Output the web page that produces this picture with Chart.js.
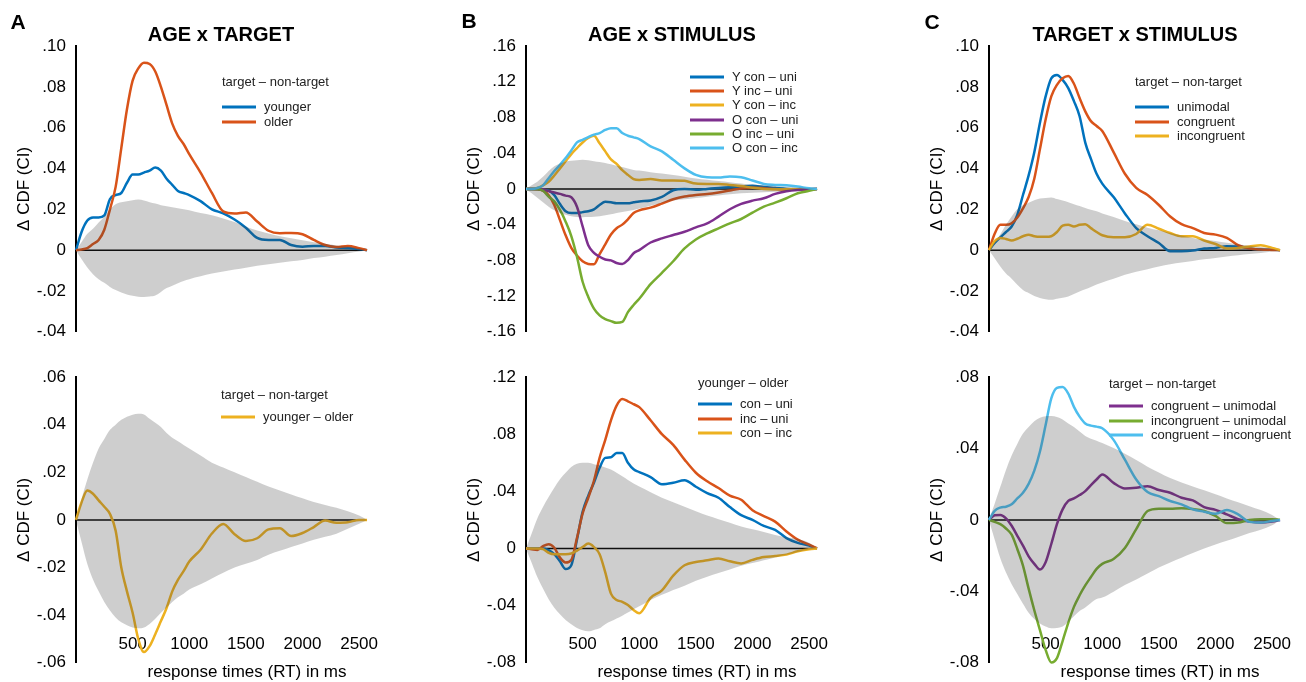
<!DOCTYPE html>
<html>
<head>
<meta charset="utf-8">
<script src="https://cdn.jsdelivr.net/npm/chart.js@4.4.1/dist/chart.umd.min.js"></script>
<style>
  body { margin:0; width:1306px; height:682px; overflow:hidden; background:#fff; position:relative;
         font-family:"Liberation Sans", Arial, Helvetica, sans-serif; }
  canvas { position:absolute; }
  .txt { position:absolute; white-space:nowrap; color:#000; line-height:1.15; }
  .letter { font-size:21px; font-weight:bold; transform:translate(-50%,-50%); }
  .ptitle { font-size:20px; font-weight:bold; transform:translate(-50%,-50%); }
  .lgt { font-size:13px; color:#222; transform:translateY(-50%); }
  .sw { position:absolute; width:34px; height:3px; transform:translateY(-50%); }
</style>
</head>
<body>
<script>
// response time grid (ms)
const xs = [0,50,100,150,200,250,300,350,400,450,500,550,600,650,700,750,800,850,900,950,1000,
            1100,1200,1300,1400,1500,1600,1700,1800,1900,2000,2100,2200,2300,2400,2500,2570];
const xTicks = [500,1000,1500,2000,2500];

// tick labels for each panel
const ticksATop = [-0.04,-0.02,0,0.02,0.04,0.06,0.08,0.10];
const ticksABot = [-0.06,-0.04,-0.02,0,0.02,0.04,0.06];
const ticksBTop = [-0.16,-0.12,-0.08,-0.04,0,0.04,0.08,0.12,0.16];
const ticksBBot = [-0.08,-0.04,0,0.04,0.08,0.12];
const ticksCTop = [-0.04,-0.02,0,0.02,0.04,0.06,0.08,0.10];
const ticksCBot = [-0.08,-0.04,0,0.04,0.08];

// A: AGE x TARGET
const aTopNames = ['younger','older'];
const aTopYounger = [0,.009,.0145,.016,.016,.017,.025,.027,.028,.033,.037,.037,.038,.039,.0405,.039,.035,.032,.029,.028,.027,
                     .024,.020,.018,.015,.011,.006,.005,.005,.0025,.0017,.002,.002,.0013,.001,.0005,0];
const aTopOlder   = [0,.0003,.001,.003,.005,.010,.020,.031,.050,.069,.083,.089,.0918,.0912,.0875,.080,.071,.062,.056,.052,.047,
                     .038,.028,.019,.018,.0185,.014,.0095,.0083,.0084,.0078,.005,.0025,.0015,.002,.001,0];
const aTopCiHi = [0,.004,.008,.0105,.0135,.0165,.020,.0225,.0235,.024,.0245,.0248,.0243,.0235,.0228,.022,.0215,.021,.0205,.020,.0196,
                  .0182,.0171,.0155,.0138,.0115,.0096,.0082,.0068,.0058,.0048,.0039,.0031,.0023,.0018,.001,0];
const aTopCiLo = [0,-.0045,-.0085,-.0118,-.0142,-.016,-.018,-.0195,-.0207,-.0217,-.0224,-.0228,-.0229,-.0227,-.0222,-.0205,-.0186,-.0174,-.0162,-.0151,-.0142,
                  -.0128,-.0115,-.0105,-.0095,-.0086,-.0077,-.0069,-.0062,-.0055,-.0048,-.0039,-.0032,-.0024,-.0015,-.0007,0];

const aBotNames = ['younger – older'];
const aBotDiff = [0,.0075,.0123,.011,.0082,.0055,.0025,-.0045,-.020,-.030,-.039,-.050,-.0555,-.053,-.048,-.0425,-.037,-.030,-.0252,-.0215,-.0175,
                  -.0125,-.0057,-.0017,-.006,-.0089,-.0077,-.004,-.0035,-.0068,-.0055,-.003,-.0003,-.0012,-.001,0,0];
const aBotCiHi = [0,.009,.017,.024,.030,.034,.0378,.040,.042,.0433,.0442,.0446,.0443,.0425,.0408,.039,.0365,.0345,.033,.0315,.030,
                  .027,.024,.022,.020,.018,.016,.014,.0123,.0107,.0091,.0075,.0063,.0051,.0036,.0018,0];
const aBotCiLo = [0,-.0095,-.0185,-.025,-.030,-.0345,-.038,-.041,-.043,-.0442,-.0452,-.0455,-.0452,-.0437,-.0415,-.039,-.0368,-.0345,-.0325,-.031,-.0292,
                  -.027,-.0246,-.0222,-.020,-.0184,-.0168,-.0146,-.013,-.0114,-.0099,-.0083,-.0071,-.0058,-.0037,-.0016,0];

// B: AGE x STIMULUS
const bTopNames = ['Y con – uni','Y inc – uni','Y con – inc','O con – uni','O inc – uni','O con – inc'];
const bYConUni = [0,0,0,-.001,-.002,-.007,-.017,-.025,-.027,-.027,-.026,-.025,-.023,-.018,-.0145,-.015,-.016,-.016,-.016,-.015,-.014,
                  -.013,-.009,-.0015,0,-.001,0,.001,.0018,.0027,.0034,.002,.001,0,-.0005,-.0005,0];
const bYIncUni = [0,0,-.0003,-.002,-.007,-.018,-.035,-.052,-.066,-.0745,-.081,-.084,-.0845,-.073,-.062,-.051,-.044,-.040,-.034,-.027,-.024,
                  -.021,-.0165,-.0116,-.0085,-.0068,-.0058,-.004,-.0017,.0005,.0014,.0008,-.0002,-.001,-.001,-.0008,0];
const bYConInc = [0,0,.001,.004,.008,.015,.023,.031,.039,.0457,.052,.057,.0595,.051,.042,.033,.028,.021,.0157,.011,.010,
                  .011,.0095,.0095,.009,.006,.0056,.0056,.0045,.0033,.0012,0,-.0004,-.0004,-.0004,0,0];
const bOConUni = [0,0,0,-.0005,-.0025,-.004,-.0056,-.0075,-.0094,-.020,-.042,-.063,-.0715,-.076,-.079,-.080,-.083,-.084,-.0797,-.072,-.0685,
                  -.060,-.0554,-.0517,-.048,-.043,-.0386,-.031,-.0228,-.0168,-.0131,-.0105,-.0056,-.0026,-.0011,-.0005,0];
const bOIncUni = [0,0,-.0003,-.002,-.0086,-.014,-.0236,-.0367,-.0528,-.076,-.104,-.121,-.134,-.1416,-.1457,-.148,-.150,-.149,-.138,-.130,-.123,
                  -.1067,-.094,-.081,-.0667,-.0566,-.0498,-.0442,-.0386,-.0337,-.0266,-.0199,-.0154,-.0105,-.0049,-.0022,0];
const bOConInc = [0,0,.001,.004,.012,.020,.027,.0345,.043,.052,.055,.058,.0607,.0625,.066,.068,.068,.0625,.0595,.0577,.0558,
                  .0476,.042,.0326,.023,.0157,.013,.0127,.0139,.013,.0094,.0056,.0045,.004,.0026,.0007,0];
const bTopCiHi = [0,.004,.008,.0135,.020,.0255,.0285,.0305,.0315,.032,.0326,.032,.031,.030,.029,.0275,.026,.0245,.0228,.0213,.0205,
                  .0187,.0172,.0157,.0137,.0117,.0102,.0088,.0075,.006,.0046,.004,.0033,.0024,.0016,.0008,0];
const bTopCiLo = [0,-.005,-.010,-.015,-.020,-.024,-.027,-.029,-.0305,-.0315,-.0318,-.0316,-.0312,-.0305,-.0295,-.0285,-.027,-.0258,-.0247,-.0236,-.022,
                  -.0188,-.0158,-.0131,-.0117,-.0102,-.0087,-.0073,-.006,-.005,-.0042,-.0037,-.0033,-.0025,-.0016,-.0007,0];

const bBotNames = ['con – uni','inc – uni','con – inc'];
const bbConUni = [0,0,0,0,-.0012,-.004,-.009,-.0144,-.0117,.0062,.0256,.037,.046,.0565,.0634,.0638,.0668,.0668,.060,.0554,.0535,
                  .050,.045,.046,.0478,.0432,.0387,.0355,.029,.0233,.020,.0158,.013,.0073,.0039,.002,0];
const bbIncUni = [0,-.0005,-.001,.0016,.003,.0005,-.0064,-.0098,-.008,.0073,.0245,.0355,.0474,.0634,.076,.0897,.100,.1046,.103,.101,.0989,
                  .0897,.080,.0725,.0622,.053,.047,.0423,.037,.0341,.0268,.0227,.0188,.0119,.0062,.0027,0];
const bbConInc = [0,0,0,-.0005,-.003,-.004,-.004,-.004,-.0035,-.0015,.001,.0034,.001,-.004,-.0167,-.0316,-.036,-.0373,-.0396,-.043,-.0453,
                  -.0345,-.0293,-.019,-.0117,-.0094,-.0083,-.007,-.009,-.0105,-.008,-.006,-.0053,-.0043,-.002,-.0006,0];
const bBotCiHi = [0,.0105,.021,.029,.036,.0425,.0485,.053,.057,.0593,.060,.060,.059,.058,.0567,.0552,.053,.0505,.048,.0455,.0433,
                  .0394,.0355,.0324,.0292,.026,.023,.0205,.018,.0153,.0134,.0115,.0095,.0078,.0066,.004,0];
const bBotCiLo = [0,-.010,-.020,-.028,-.0355,-.0415,-.046,-.050,-.053,-.0556,-.0572,-.058,-.057,-.0558,-.053,-.051,-.049,-.047,-.0448,-.0425,-.0405,
                  -.036,-.0324,-.029,-.026,-.0226,-.0198,-.0172,-.0147,-.012,-.0102,-.0083,-.0063,-.0044,-.0024,-.0008,0];

// C: TARGET x STIMULUS
const cTopNames = ['unimodal','congruent','incongruent'];
const cUni = [0,.0035,.0063,.0089,.0116,.0173,.027,.0366,.048,.0624,.0753,.0842,.0858,.0834,.0794,.073,.0656,.0527,.0447,.0374,.0326,
              .026,.018,.0108,.0068,.0035,-.0005,-.0005,-.0002,.0008,.0011,.0019,.0018,.0008,.0003,.0002,0];
const cCon = [0,.008,.0124,.0124,.0132,.016,.0205,.026,.035,.0495,.064,.0753,.081,.0842,.0853,.0815,.0745,.068,.0632,.0608,.0584,
              .048,.0374,.0305,.027,.0221,.0165,.0127,.0108,.0084,.0076,.006,.0024,.0008,.0003,.0001,0];
const cInc = [0,.0044,.006,.0055,.0047,.0056,.0068,.0076,.0068,.0065,.0065,.0068,.0089,.012,.0124,.0116,.0124,.0127,.0108,.0089,.0073,
              .0063,.0063,.0079,.0124,.0105,.0084,.0068,.0068,.0047,.003,.0008,.0011,.0018,.0024,.0011,0];
const cTopCiHi = [0,.004,.0078,.0125,.0165,.020,.022,.0232,.0245,.0253,.0256,.0258,.025,.0243,.0235,.0225,.0216,.0207,.0198,.019,.018,
                  .0162,.0143,.0127,.011,.0097,.0084,.0072,.006,.0052,.0045,.0036,.0028,.0022,.0015,.0007,0];
const cTopCiLo = [0,-.004,-.008,-.0115,-.014,-.017,-.0195,-.021,-.0225,-.0234,-.024,-.0243,-.0238,-.0233,-.0227,-.0215,-.0203,-.0192,-.018,-.0168,-.0158,
                  -.014,-.0121,-.0106,-.0093,-.008,-.0069,-.0061,-.0053,-.0045,-.0038,-.0031,-.0025,-.0019,-.0014,-.0007,0];

const cBotNames = ['congruent – unimodal','incongruent – unimodal','congruent – incongruent'];
const cbConUni = [0,.0026,.0028,.0009,-.0033,-.0089,-.0144,-.0204,-.0246,-.0278,-.0237,-.0135,-.0024,.0059,.0106,.012,.0139,.0161,.0194,.0226,.0254,
                  .0207,.0176,.018,.0189,.0167,.0152,.0124,.0109,.0072,.0056,.0031,.0004,-.0009,-.0015,-.0009,0];
const cbIncUni = [0,-.0011,-.0024,-.0048,-.0083,-.0163,-.0256,-.0385,-.0506,-.0617,-.0728,-.0798,-.0774,-.0678,-.0576,-.0487,-.0422,-.0367,-.032,-.0274,-.0246,
                  -.0219,-.0157,-.0052,.005,.0063,.0063,.0065,.0061,.005,.0022,-.0018,-.0015,0,.0004,.0004,0];
const cbConInc = [0,.005,.0069,.0074,.0087,.012,.0152,.0202,.0276,.0383,.0531,.068,.0739,.0744,.0707,.0633,.0578,.054,.0528,.0522,.0513,
                  .0448,.0337,.0226,.0156,.0133,.0106,.0087,.0059,.0046,.0035,.0056,.0031,-.0011,-.0015,-.0006,0];
const cBotCiHi = [0,.009,.0185,.028,.036,.0425,.0483,.052,.0552,.0572,.058,.0582,.0576,.0562,.054,.052,.0495,.047,.0455,.0443,.043,
                  .0402,.037,.0335,.0298,.0266,.0234,.021,.0187,.0166,.0143,.012,.0099,.0077,.0055,.0028,0];
const cBotCiLo = [0,-.011,-.0215,-.0295,-.036,-.0415,-.047,-.052,-.0555,-.058,-.0597,-.0607,-.0605,-.0597,-.057,-.054,-.051,-.049,-.0465,-.0443,-.0435,
                  -.0402,-.0364,-.0333,-.030,-.0267,-.0238,-.0212,-.0186,-.016,-.0138,-.0117,-.0096,-.0074,-.0055,-.003,0];

// colours (matlab default order)
const BLUE = '#0072BD', ORANGE = '#D95319', YELLOW = '#EDB120',
      PURPLE = '#7E2F8E', GREEN = '#77AC30', CYAN = '#4DBEEE';
const BAND = 'rgba(60,60,60,0.25)';
const FONT = '"Liberation Sans", Arial, Helvetica, sans-serif';

function pts(ys) {
  return xs.map(function (x, i) { return {x: x, y: ys[i]}; });
}

function fmt(v) {
  if (Math.abs(v) < 1e-9) return '0';
  return (v < 0 ? '-' : '') + Math.abs(v).toFixed(2).slice(1);
}

// one chart per panel, axis line sits at axisX
function panel(axisX, top, height, yTicks, series, ciHi, ciLo, bottomRow) {
  var cv = document.createElement('canvas');
  cv.width = 422; cv.height = height;
  cv.style.left = (axisX - 76) + 'px';
  cv.style.top = top + 'px';
  document.body.appendChild(cv);

  var datasets = [
    {data: pts(ciHi), borderColor: 'transparent', borderWidth: 0, pointRadius: 0,
     backgroundColor: BAND, fill: '+1', cubicInterpolationMode: 'monotone'},
    {data: pts(ciLo), borderColor: 'transparent', borderWidth: 0, pointRadius: 0,
     fill: false, cubicInterpolationMode: 'monotone'}
  ];
  series.forEach(function (s) {
    datasets.push({data: pts(s.values), borderColor: s.color, borderWidth: 2.5, pointRadius: 0,
                   fill: false, cubicInterpolationMode: 'monotone', clip: false});
  });
  // zero reference line
  datasets.push({data: [{x: xs[0], y: 0}, {x: xs[xs.length - 1], y: 0}], borderColor: '#000',
                 borderWidth: 1.5, pointRadius: 0, fill: false});

  new Chart(cv.getContext('2d'), {
    type: 'line',
    data: {datasets: datasets},
    options: {
      responsive: false,
      animation: false,
      events: [],
      layout: {padding: bottomRow ? {left: 10, right: 4, top: 32, bottom: 0}
                                  : {left: 10, right: 4, top: 46, bottom: 14}},
      plugins: {legend: {display: false}, tooltip: {enabled: false}},
      scales: {
        x: {
          type: 'linear', min: 0, max: 3020,
          display: bottomRow,
          afterBuildTicks: function (s) { s.ticks = xTicks.map(function (v) { return {value: v}; }); },
          afterFit: function (s) { if (bottomRow) s.height = 18; },
          grid: {display: false, drawTicks: false},
          border: {display: false},
          // mirrored so the labels sit inside the plot, a little above its bottom edge
          ticks: {mirror: true, padding: 8, maxRotation: 0, autoSkip: false, color: '#000',
                  font: {family: FONT, size: 17},
                  callback: function (v) { return String(v); }},
          title: {display: true, text: 'response times (RT) in ms', color: '#000', padding: 0,
                  font: {family: FONT, size: 17, lineHeight: 1}}
        },
        y: {
          min: yTicks[0], max: yTicks[yTicks.length - 1],
          afterBuildTicks: function (s) { s.ticks = yTicks.map(function (v) { return {value: v}; }); },
          afterFit: function (s) { s.width = 66; },
          grid: {display: false, drawTicks: false},
          border: {display: true, color: '#000', width: 2},
          ticks: {padding: 10, color: '#000', font: {family: FONT, size: 17},
                  callback: function (v) { return fmt(v); }},
          title: {display: true, text: 'Δ CDF (CI)', color: '#000', padding: {top: 4, bottom: 4},
                  font: {family: FONT, size: 17}}
        }
      }
    }
  });
}

function text(str, x, y, cls) {
  var d = document.createElement('div');
  d.className = 'txt ' + cls;
  d.textContent = str;
  d.style.left = x + 'px';
  d.style.top = y + 'px';
  document.body.appendChild(d);
}

function legend(x, titleY, title, names, colors, rowY, step) {
  if (title) text(title, x, titleY, 'lgt');
  names.forEach(function (n, i) {
    var y = rowY + i * step;
    var sw = document.createElement('div');
    sw.className = 'sw';
    sw.style.left = x + 'px';
    sw.style.top = y + 'px';
    sw.style.background = colors[i];
    document.body.appendChild(sw);
    text(n, x + 42, y, 'lgt');
  });
}

// A
panel(76, 0, 352, ticksATop,
      [{values: aTopOlder, color: ORANGE}, {values: aTopYounger, color: BLUE}],
      aTopCiHi, aTopCiLo, false);
panel(76, 345, 338, ticksABot,
      [{values: aBotDiff, color: YELLOW}],
      aBotCiHi, aBotCiLo, true);
// B
panel(526, 0, 352, ticksBTop,
      [{values: bOConInc, color: CYAN}, {values: bOIncUni, color: GREEN}, {values: bOConUni, color: PURPLE},
       {values: bYConInc, color: YELLOW}, {values: bYIncUni, color: ORANGE}, {values: bYConUni, color: BLUE}],
      bTopCiHi, bTopCiLo, false);
panel(526, 345, 338, ticksBBot,
      [{values: bbConInc, color: YELLOW}, {values: bbIncUni, color: ORANGE}, {values: bbConUni, color: BLUE}],
      bBotCiHi, bBotCiLo, true);
// C
panel(989, 0, 352, ticksCTop,
      [{values: cInc, color: YELLOW}, {values: cCon, color: ORANGE}, {values: cUni, color: BLUE}],
      cTopCiHi, cTopCiLo, false);
panel(989, 345, 338, ticksCBot,
      [{values: cbConInc, color: CYAN}, {values: cbIncUni, color: GREEN}, {values: cbConUni, color: PURPLE}],
      cBotCiHi, cBotCiLo, true);

// panel letters and titles
text('A', 18, 22, 'letter');
text('B', 469, 21, 'letter');
text('C', 932, 22, 'letter');
text('AGE x TARGET', 221, 34, 'ptitle');
text('AGE x STIMULUS', 672, 34, 'ptitle');
text('TARGET x STIMULUS', 1135, 34, 'ptitle');

// legends
legend(222, 82, 'target – non-target', aTopNames, [BLUE, ORANGE], 107, 15);
legend(221, 395, 'target – non-target', aBotNames, [YELLOW], 417, 15);
legend(690, 0, null, bTopNames, [BLUE, ORANGE, YELLOW, PURPLE, GREEN, CYAN], 77, 14.2);
legend(698, 383, 'younger – older', bBotNames, [BLUE, ORANGE, YELLOW], 404, 14.5);
legend(1135, 82, 'target – non-target', cTopNames, [BLUE, ORANGE, YELLOW], 107, 14.5);
legend(1109, 384, 'target – non-target', cBotNames, [PURPLE, GREEN, CYAN], 406, 14.5);
</script>
</body>
</html>
